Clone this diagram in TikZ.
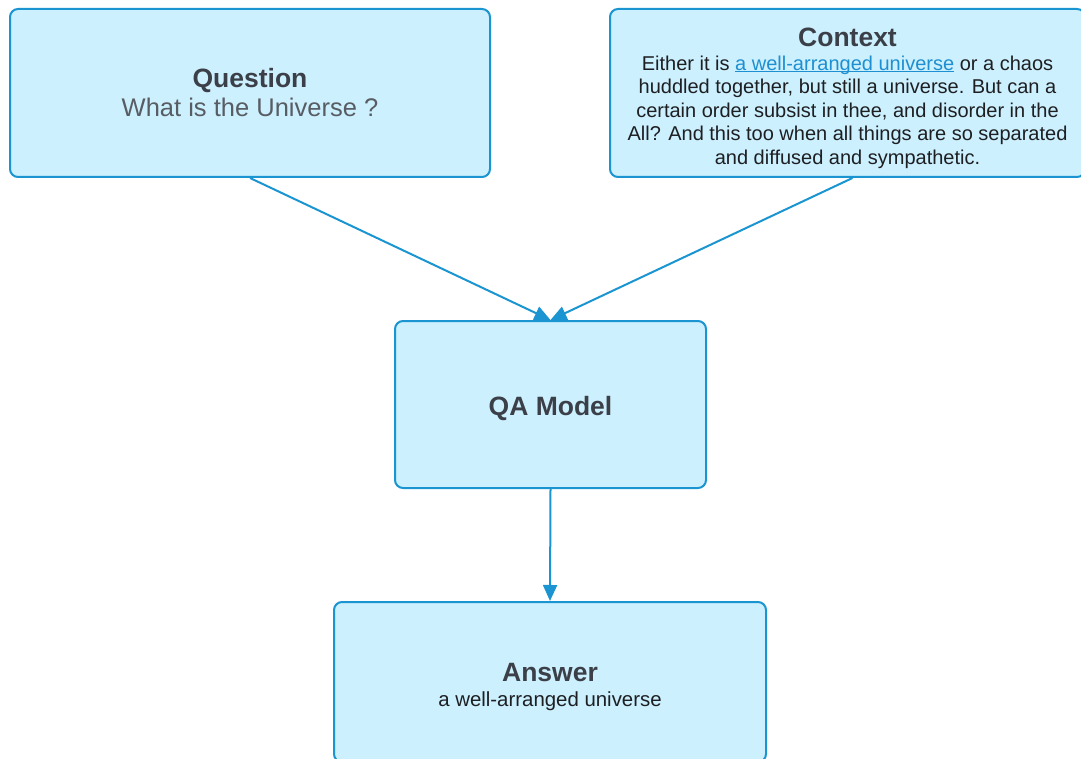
\documentclass[tikz,border=0pt]{standalone}
\usepackage{fontspec}
\setmainfont{Liberation Sans}
\usetikzlibrary{arrows.meta}
\definecolor{boxfill}{HTML}{CCF0FE}
\definecolor{boxline}{HTML}{1B95D1}
\definecolor{titlegray}{HTML}{3B3F48}
\definecolor{bodyink}{HTML}{1E1F22}
\definecolor{linkblue}{HTML}{1E8FD0}
\newcommand{\blocktitle}[1]{{\fontsize{26.5}{30}\selectfont\bfseries\color{titlegray}#1}}
% link-style text: coloured, with a thin rule just under the baseline
\newsavebox{\linkbox}
\newcommand{\linktext}[1]{\sbox{\linkbox}{\color{linkblue}#1}%
  \rlap{\color{linkblue}\rule[-2.2pt]{\wd\linkbox}{1pt}}\usebox{\linkbox}}
\begin{document}
\begin{tikzpicture}[x=1pt,y=-1pt,
  block/.style={draw=boxline, line width=2pt, fill=boxfill, rounded corners=8pt,
    align=center, inner sep=0pt},
  flow/.style={draw=boxline, line width=2pt, -{Triangle[length=16pt,width=14pt]}}
]
\useasboundingbox (0,0) rectangle (1081,759);
\clip (0,0) rectangle (1081,759);

\node[block, minimum width=480pt, minimum height=168pt,
      font=\fontsize{25.5}{29}\selectfont, text=titlegray!85!white] (q) at (250,93)
  {\blocktitle{Question}\\
   What is the Universe ?};

% the struts on the title lines lower the text blocks a little
\node[block, minimum width=475pt, minimum height=168pt,
      font=\fontsize{20}{23.5}\selectfont, text=bodyink] (c) at (847.5,93)
  {\rule{0pt}{29pt}\blocktitle{Context}\\
   Either it is \linktext{a well-arranged universe} or a chaos\\
   huddled together, but still a universe. But can a\\
   certain order subsist in thee, and disorder in the\\
   All? And this too when all things are so separated\\
   and diffused and sympathetic.};

\node[block, minimum width=311pt, minimum height=167pt] (m) at (550.5,404.5)
  {\rule{0pt}{27pt}\blocktitle{QA Model}};

\node[block, minimum width=432pt, minimum height=160pt,
      font=\fontsize{20.4}{25}\selectfont, text=bodyink] (a) at (550,682)
  {\rule{0pt}{28pt}\blocktitle{Answer}\\
   a well-arranged universe};

\draw[flow] (q.south) -- (m.north);
\draw[flow] ([xshift=5pt]c.south) -- (m.north);
\draw[flow] (m.south) -- (a.north);
\end{tikzpicture}
\end{document}
